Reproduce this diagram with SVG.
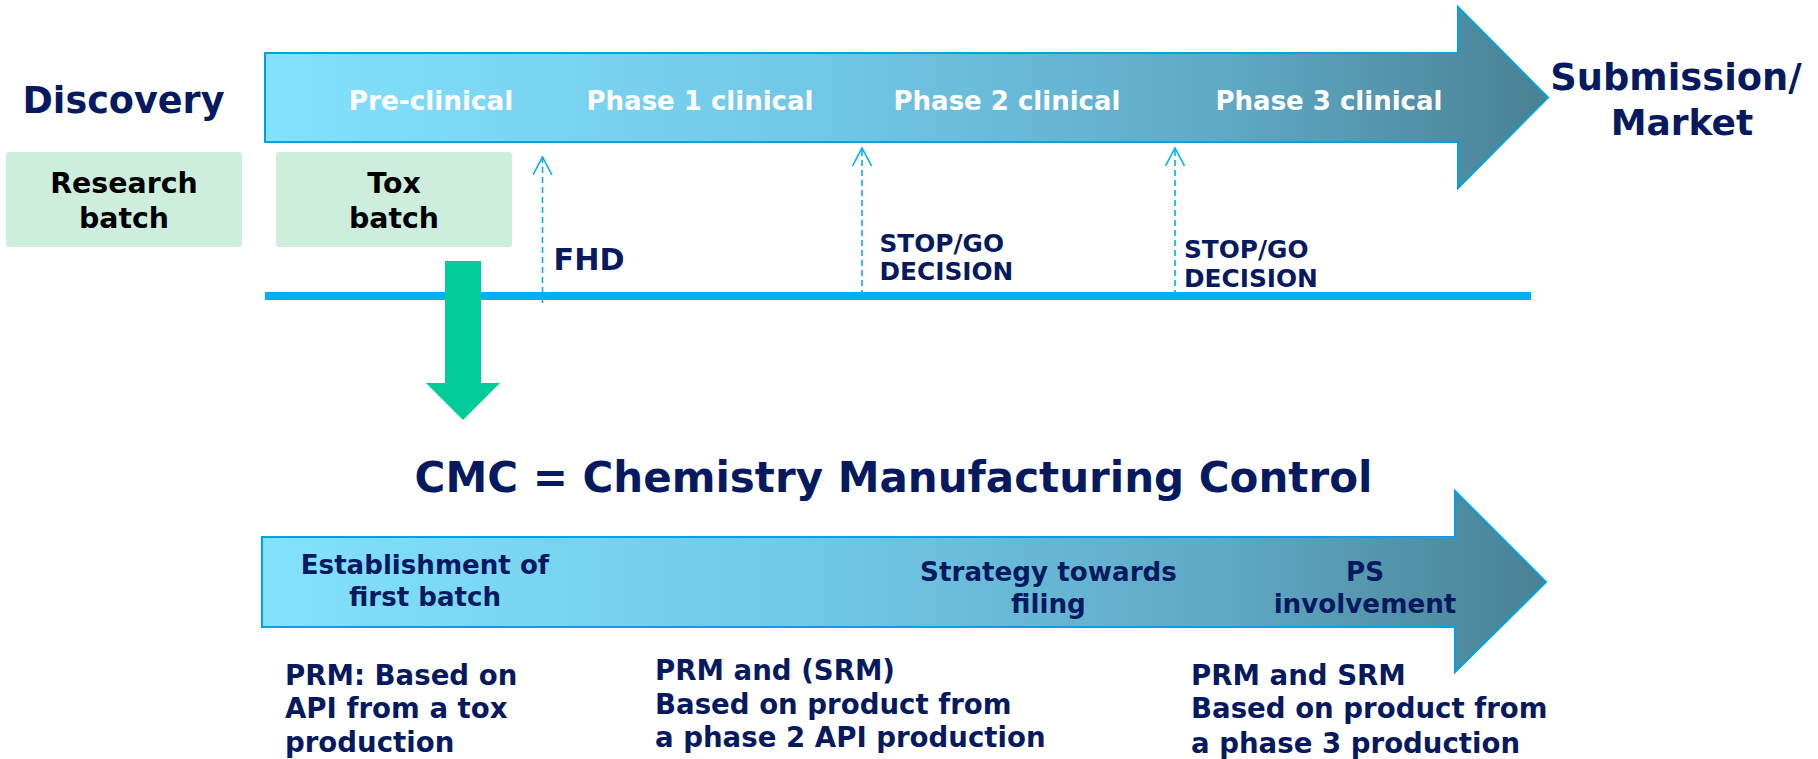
<svg xmlns="http://www.w3.org/2000/svg" width="1818" height="759" viewBox="0 0 1818 759">
  <defs>
    <linearGradient id="flow" x1="0" y1="0" x2="1" y2="0">
      <stop offset="0" stop-color="#82e2fe"/>
      <stop offset="0.45" stop-color="#70c6e5"/>
      <stop offset="0.75" stop-color="#5ea9c5"/>
      <stop offset="1" stop-color="#4a8193"/>
    </linearGradient>
    <!-- open chevron head, drawn pointing along +x so orient="auto" follows the line -->
    <marker id="openHead" viewBox="0 0 20 20" refX="19" refY="10" markerWidth="20" markerHeight="20" markerUnits="userSpaceOnUse" orient="auto">
      <path d="M1,0.5 L19,10 L1,19.5" fill="none" stroke="#00b0f0" stroke-width="1.6"/>
    </marker>
    <style>
      text { font-family: "DejaVu Sans", Verdana, sans-serif; font-weight: bold; }
      .navy { fill: #071a60; }
      .white { fill: #ffffff; }
      .black { fill: #000000; }
      .mid { text-anchor: middle; }
      .band { fill: url(#flow); stroke: #00a3e0; stroke-width: 2; }
      .batch { fill: #cdeedd; }
      .dash { stroke: #00b0f0; stroke-width: 1.6; stroke-dasharray: 6 4; fill: none; }
    </style>
  </defs>

  <rect width="1818" height="759" fill="#ffffff"/>

  <!-- Development timeline band -->
  <g id="timeline">
    <path class="band" d="M265,53 H1458 V7 L1548,97.5 L1458,188 V142 H265 Z"/>
    <text class="white mid" x="431" y="110" font-size="26.3">Pre-clinical</text>
    <text class="white mid" x="700" y="110" font-size="26">Phase 1 clinical</text>
    <text class="white mid" x="1007" y="110" font-size="26">Phase 2 clinical</text>
    <text class="white mid" x="1329" y="110" font-size="26">Phase 3 clinical</text>
  </g>

  <g id="discovery">
    <text class="navy mid" x="123.5" y="113" font-size="36.6">Discovery</text>
  </g>

  <g id="submission">
    <text class="navy mid" x="1676" y="90" font-size="36.8">Submission/</text>
    <text class="navy mid" x="1682" y="135" font-size="36">Market</text>
  </g>

  <g id="research-batch">
    <rect class="batch" x="6" y="152" width="236" height="95" rx="3"/>
    <text class="black mid" x="124" y="193" font-size="28.4">Research</text>
    <text class="black mid" x="124" y="228" font-size="28.4">batch</text>
  </g>

  <g id="tox-batch">
    <rect class="batch" x="276" y="152" width="236" height="95" rx="3"/>
    <text class="black mid" x="394" y="193" font-size="28.4">Tox</text>
    <text class="black mid" x="394" y="228" font-size="28.4">batch</text>
  </g>

  <!-- Milestone axis -->
  <g id="axis">
    <rect x="265" y="292" width="1266" height="8" fill="#00b0f0"/>
  </g>

  <g id="connectors">
    <line class="dash" x1="542.5" y1="303" x2="542.5" y2="157" marker-end="url(#openHead)"/>
    <line class="dash" x1="862" y1="296" x2="862" y2="148" marker-end="url(#openHead)"/>
    <line class="dash" x1="1175" y1="296" x2="1175" y2="148" marker-end="url(#openHead)"/>
    <!-- Tox batch feeds CMC -->
    <path d="M445,261 H481 V383 H500 L463,420 L426,383 H445 Z" fill="#00cc99"/>
  </g>

  <g id="fhd">
    <text class="navy" x="553.6" y="270" font-size="30.2">FHD</text>
  </g>

  <g id="stop-go-2">
    <text class="navy" x="879.5" y="252" font-size="24.8">STOP/GO</text>
    <text class="navy" x="879.5" y="280" font-size="24.8">DECISION</text>
  </g>

  <g id="stop-go-3">
    <text class="navy" x="1184" y="258" font-size="24.8">STOP/GO</text>
    <text class="navy" x="1184" y="287" font-size="24.8">DECISION</text>
  </g>

  <g id="cmc-title">
    <text class="navy mid" x="893.5" y="492" font-size="42">CMC = Chemistry Manufacturing Control</text>
  </g>

  <!-- CMC progression band -->
  <g id="cmc-band">
    <path class="band" d="M262,537 H1455 V491 L1546,582 L1455,672 V627 H262 Z"/>
    <text class="navy mid" x="425" y="574" font-size="26.1">Establishment of</text>
    <text class="navy mid" x="425" y="606" font-size="26.1">first batch</text>
    <text class="navy mid" x="1048.5" y="581" font-size="26.2">Strategy towards</text>
    <text class="navy mid" x="1048.5" y="613" font-size="26.2">filing</text>
    <text class="navy mid" x="1365" y="581" font-size="26.2">PS</text>
    <text class="navy mid" x="1365" y="613" font-size="26.2">involvement</text>
  </g>

  <g id="note-first">
    <text class="navy" x="285" y="685" font-size="27.6">PRM: Based on</text>
    <text class="navy" x="285" y="718" font-size="27.6">API from a tox</text>
    <text class="navy" x="285" y="752" font-size="27.6">production</text>
  </g>

  <g id="note-phase2">
    <text class="navy" x="655" y="680" font-size="27.6">PRM and (SRM)</text>
    <text class="navy" x="655" y="714" font-size="27.6">Based on product from</text>
    <text class="navy" x="655" y="747" font-size="27.6">a phase 2 API production</text>
  </g>

  <g id="note-phase3">
    <text class="navy" x="1191" y="685" font-size="27.6">PRM and SRM</text>
    <text class="navy" x="1191" y="718" font-size="27.6">Based on product from</text>
    <text class="navy" x="1191" y="753" font-size="27.6">a phase 3 production</text>
  </g>
</svg>
